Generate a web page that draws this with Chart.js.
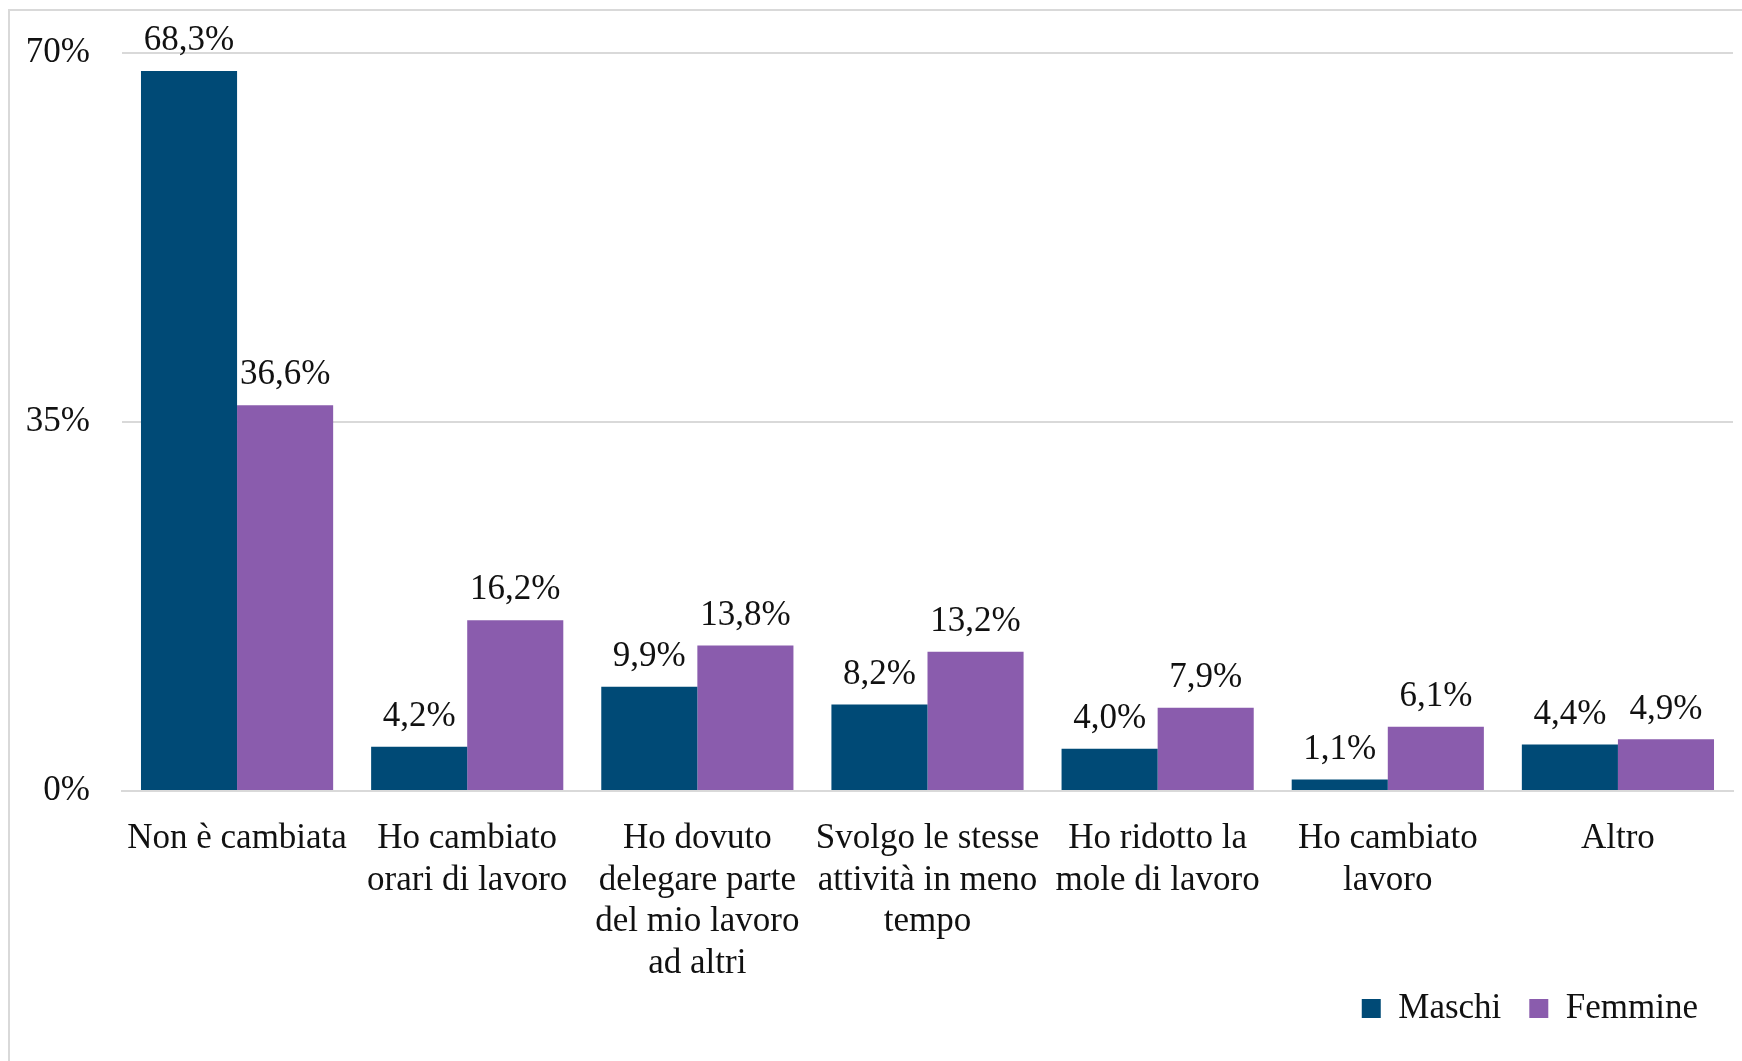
<!DOCTYPE html>
<html>
<head>
<meta charset="utf-8">
<script src="https://cdn.jsdelivr.net/npm/chart.js@4.4.1/dist/chart.umd.min.js"></script>
<style>
  body { margin: 0; background: #fff; overflow: hidden; }
  #wrap { position: relative; width: 1742px; height: 1061px; }
  #frame { position: absolute; left: 8px; top: 9px; width: 1760px; height: 1080px; border: 2px solid #d9d9d9; box-sizing: border-box; }
  canvas { position: absolute; left: 0; top: 0; }
</style>
</head>
<body>
<div id="wrap">
  <div id="frame"></div>
  <canvas id="chart" width="1742" height="1061"></canvas>
</div>
<script>
const categories = [
  "Non è cambiata",
  ["Ho cambiato", "orari di lavoro"],
  ["Ho dovuto", "delegare parte", "del mio lavoro", "ad altri"],
  ["Svolgo le stesse", "attività in meno", "tempo"],
  ["Ho ridotto la", "mole di lavoro"],
  ["Ho cambiato", "lavoro"],
  "Altro"
];
const maschi = [68.3, 4.2, 9.9, 8.2, 4.0, 1.1, 4.4];
const femmine = [36.6, 16.2, 13.8, 13.2, 7.9, 6.1, 4.9];
const yTicks = [0, 35, 70];

const fontFamily = "'Liberation Serif', 'DejaVu Serif', serif";

// etichette sopra le barre
const barLabels = {
  id: "barLabels",
  afterDatasetsDraw(chart) {
    const ctx = chart.ctx;
    ctx.save();
    ctx.font = "35px " + fontFamily;
    ctx.fillStyle = "#111";
    ctx.textAlign = "center";
    ctx.textBaseline = "middle";
    chart.data.datasets.forEach((ds, i) => {
      chart.getDatasetMeta(i).data.forEach((bar, j) => {
        const txt = ds.data[j].toFixed(1).replace(".", ",") + "%";
        ctx.fillText(txt, bar.x, bar.y - 30);
      });
    });
    ctx.restore();
  }
};

// la legenda sta accanto all'ultima riga delle etichette, quindi la alzo un po'
const legendLift = {
  id: "legendLift",
  afterLayout(chart) {
    const lg = chart.legend;
    lg.top -= 22;
    lg.bottom -= 22;
    lg.left -= 7;
    lg.right -= 7;
  }
};

const config = {
  type: "bar",
  data: {
    labels: categories,
    datasets: [
      { label: "Maschi", data: maschi, backgroundColor: "#004a76" },
      { label: "Femmine", data: femmine, backgroundColor: "#8a5cad" }
    ]
  },
  options: {
    responsive: false,
    animation: false,
    layout: { padding: { top: 44, right: 9, bottom: 3 } },
    datasets: { bar: { barPercentage: 1, categoryPercentage: 0.835 } },
    scales: {
      x: {
        afterFit(scale) { scale.height = 194; },
        grid: { display: false, drawTicks: false },
        border: { display: true, color: "#d9d9d9", width: 2 },
        ticks: {
          color: "#111",
          padding: 27,
          maxRotation: 0,
          autoSkip: false,
          font: { family: fontFamily, size: 35, lineHeight: 1.19 }
        }
      },
      y: {
        min: 0,
        max: 70,
        afterBuildTicks(scale) {
          scale.ticks = yTicks.map(v => ({ value: v }));
        },
        afterFit(scale) { scale.width = 122; },
        grid: { color: "#d9d9d9", lineWidth: 2, drawTicks: false },
        border: { display: false },
        ticks: {
          color: "#111",
          padding: 32,
          font: { family: fontFamily, size: 35 },
          callback: v => v + "%"
        }
      }
    },
    plugins: {
      legend: {
        position: "bottom",
        align: "end",
        labels: {
          color: "#111",
          boxWidth: 19,
          boxHeight: 19,
          padding: 28,
          font: { family: fontFamily, size: 35 }
        }
      },
      tooltip: { enabled: false }
    }
  },
  plugins: [barLabels, legendLift]
};

window.onload = function () {
  const ctx = document.getElementById("chart").getContext("2d");
  window.myChart = new Chart(ctx, config);
};
</script>
</body>
</html>
